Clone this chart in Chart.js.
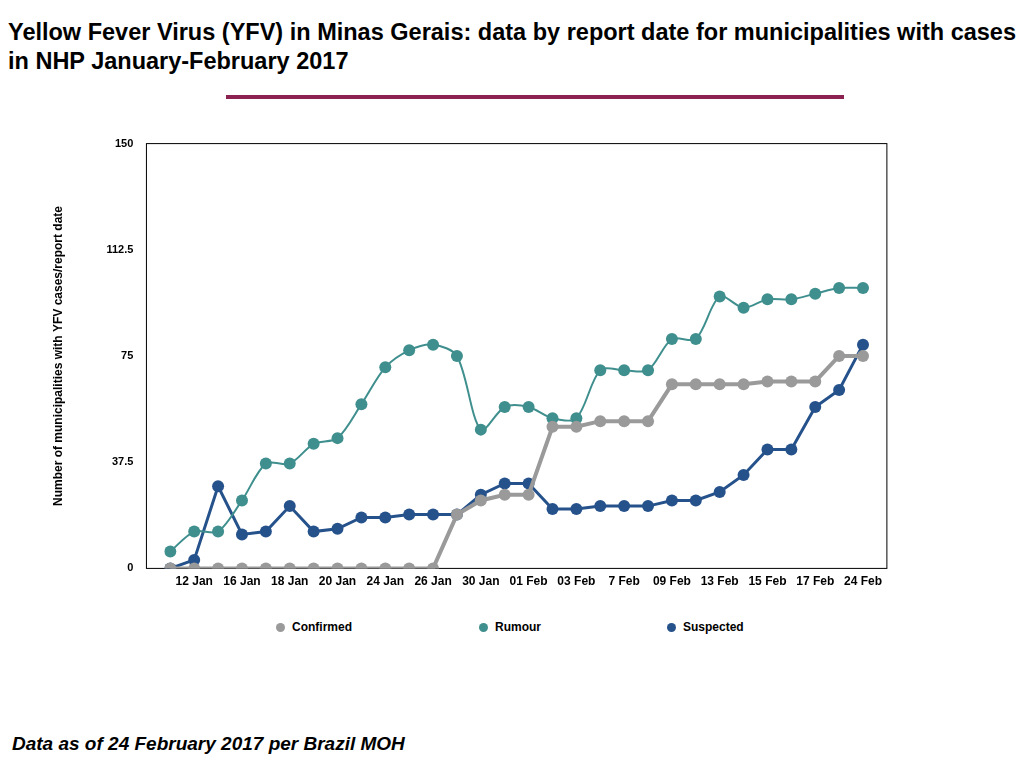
<!DOCTYPE html>
<html><head><meta charset="utf-8">
<script src="https://cdn.jsdelivr.net/npm/chart.js@4"></script>
<style>
body{margin:0;width:1024px;height:768px;background:#fff;font-family:"Liberation Sans",Arial,sans-serif;position:relative;overflow:hidden}
#title{position:absolute;left:8px;top:18px;width:1008px;font-size:23.5px;font-weight:bold;line-height:29px;text-align:justify;text-align-last:left}
#bar{position:absolute;left:226px;top:95px;width:618px;height:4px;background:#8b2252}
#foot{position:absolute;left:12px;top:733px;font-size:19px;font-weight:bold;font-style:italic}
#wrap{position:absolute;left:0;top:100px;width:1024px;height:512px}
#leg{position:absolute;top:620px;left:0;width:1024px;font-size:12px;font-weight:bold}
#leg span{position:absolute;white-space:nowrap}
#leg i{display:inline-block;width:9px;height:9px;border-radius:50%;margin-right:7px;vertical-align:-1px}
</style></head><body>
<div id="title">Yellow Fever Virus (YFV) in Minas Gerais: data by report date for municipalities with cases in NHP January-February 2017</div>
<div id="bar"></div>
<div id="wrap"><canvas id="c"></canvas></div>
<div id="leg"></div>
<div id="foot">Data as of 24 February 2017 per Brazil MOH</div>
<script>
const dates = ["11 Jan","12 Jan","13 Jan","16 Jan","17 Jan","18 Jan","19 Jan","20 Jan","23 Jan","24 Jan","25 Jan","26 Jan","27 Jan","30 Jan","31 Jan","01 Feb","02 Feb","03 Feb","06 Feb","7 Feb","08 Feb","09 Feb","10 Feb","13 Feb","14 Feb","15 Feb","16 Feb","17 Feb","20 Feb","24 Feb"];
const confirmed = [0,0,0,0,0,0,0,0,0,0,0,0,19,24,26,26,50,50,52,52,52,65,65,65,65,66,66,66,75,75];
const rumour = [6,13,13,24,37,37,44,46,58,71,77,79,75,49,57,57,53,53,70,70,70,81,81,96,92,95,95,97,99,99];
const suspected = [0,3,29,12,13,22,13,14,18,18,19,19,19,26,30,30,21,21,22,22,22,24,24,27,33,42,42,57,63,79];
const yTicks = [0,37.5,75,112.5,150];
const series = [["Confirmed", confirmed, "#9a9a9a", 4, 0, 276], ["Rumour", rumour, "#3f8f8e", 2, 0.3, 479], ["Suspected", suspected, "#26528c", 3, 0, 667]];

const leg = document.getElementById('leg');
series.forEach(s => { const e = document.createElement('span'); e.style.left = s[5] + 'px'; e.innerHTML = '<i style="background:' + s[2] + '"></i>' + s[0]; leg.appendChild(e); });

Chart.defaults.font.family = '"Liberation Sans", Arial, sans-serif';
Chart.defaults.font.weight = 'bold';
Chart.defaults.font.size = 12;
Chart.defaults.color = '#000';
new Chart(document.getElementById('c'), {
  type: 'line',
  data: { labels: dates, datasets: series.map(s => ({
    label: s[0], data: s[1], borderColor: s[2], backgroundColor: s[2], borderWidth: s[3],
    pointRadius: 6, pointHoverRadius: 6, pointBorderWidth: 0, tension: s[4] })) },
  options: {
    responsive: true, maintainAspectRatio: false, animation: false,
    layout: { padding: { left: 47, right: 161, top: 8, bottom: 0 } },
    plugins: { legend: { display: false }, tooltip: { enabled: false } },
    scales: {
      x: { offset: false, grid: { display: false, drawTicks: false }, border: { display: false },
        ticks: { autoSkip: false, maxRotation: 0, padding: 6, callback: (v, i) => i % 2 === 1 ? dates[i] : '' } },
      y: { min: 0, max: 150, grid: { display: false, drawTicks: false }, border: { display: false },
        afterBuildTicks: a => { a.ticks = yTicks.map(v => ({ value: v })); },
        ticks: { padding: 37, font: { size: 11, weight: 'bold' } },
        title: { display: true, text: 'Number of municipalities with YFV cases/report date', font: { size: 12, weight: 'bold' } } }
    }
  },
  plugins: [{ id: 'box', beforeDatasetsDraw(ch) {
    const a = ch.chartArea, x = ch.ctx, st = (a.right - a.left) / (dates.length - 1);
    x.save(); x.strokeStyle = '#000'; x.lineWidth = 1;
    x.strokeRect(a.left - st, a.top, a.right - a.left + 2 * st, a.bottom - a.top); x.restore(); } }]
});
</script>
</body></html>
